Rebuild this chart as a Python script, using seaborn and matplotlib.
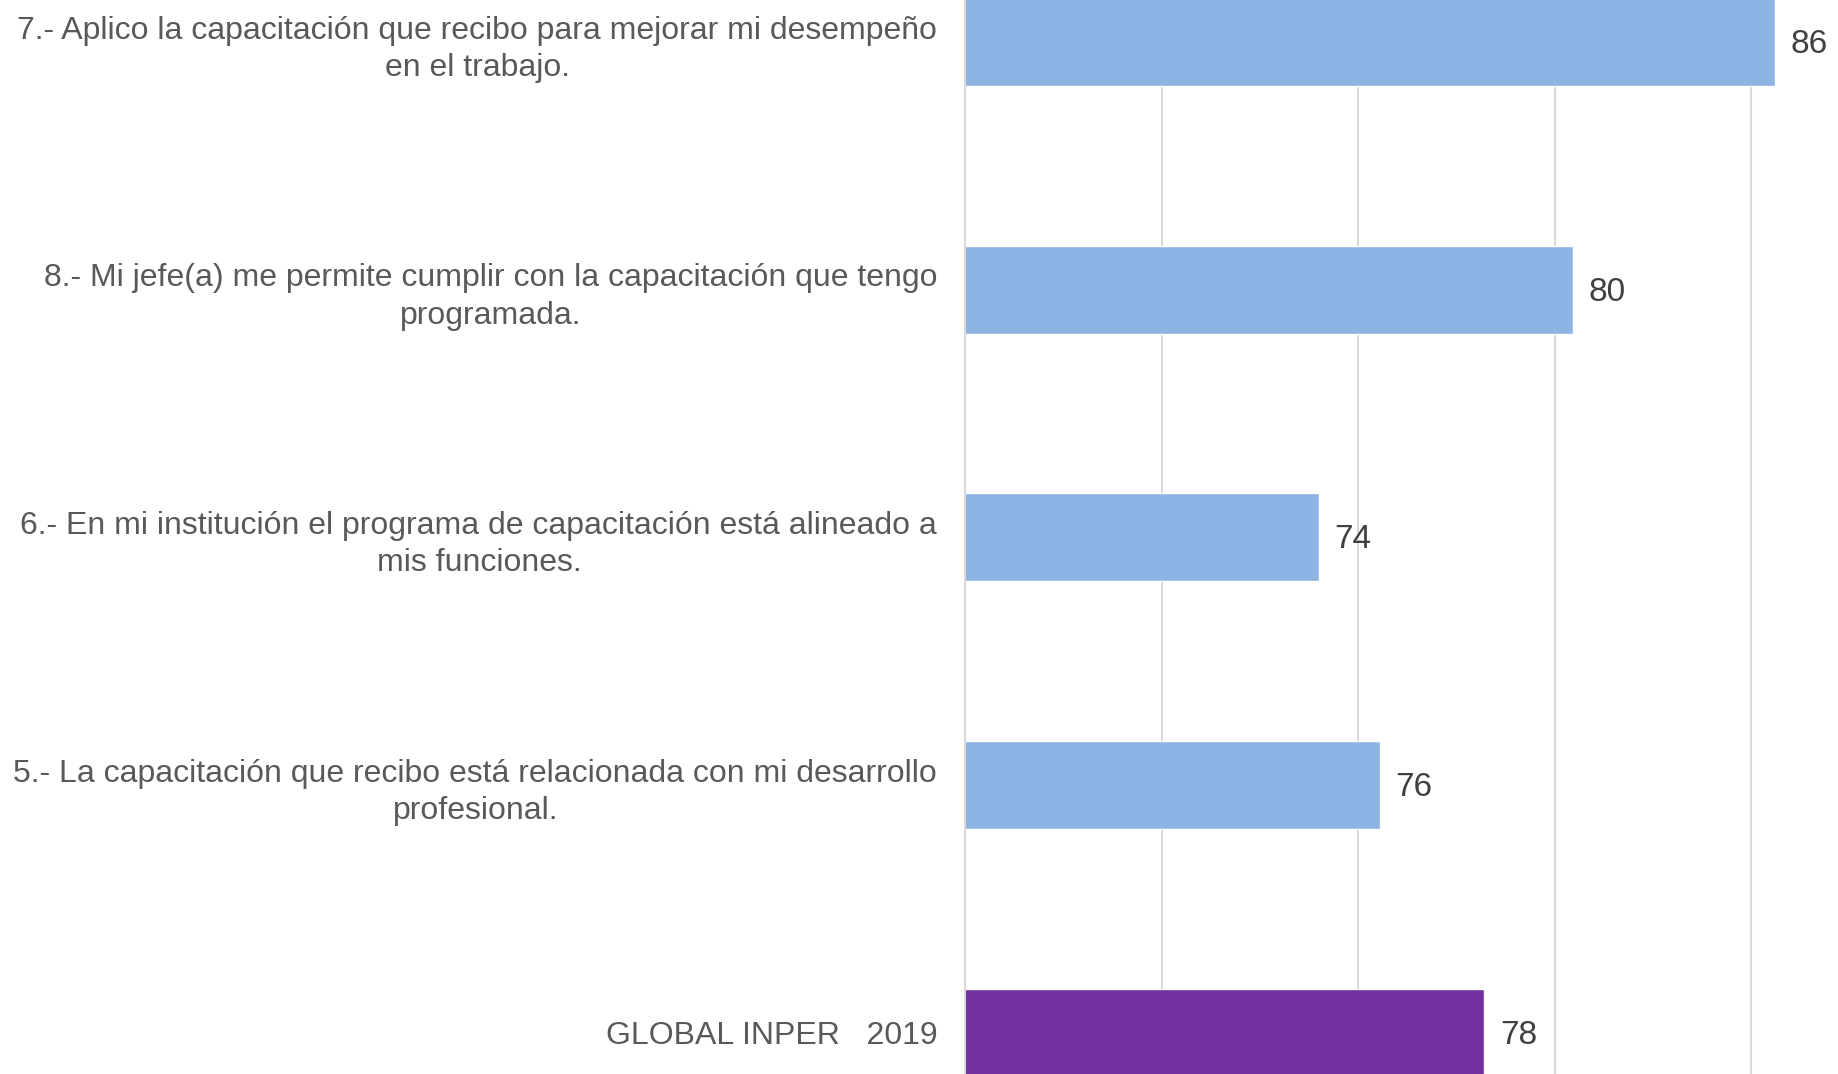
import numpy as np
import pandas as pd
import matplotlib
matplotlib.use("Agg")
import matplotlib.pyplot as plt
import seaborn as sns

categories = [
    "7.- Aplico la capacitación que recibo para mejorar mi desempeño\nen el trabajo.",
    "8.- Mi jefe(a) me permite cumplir con la capacitación que tengo\nprogramada.",
    "6.- En mi institución el programa de capacitación está alineado a\nmis funciones.",
    "5.- La capacitación que recibo está relacionada con mi desarrollo\nprofesional.",
    "GLOBAL INPER   2019",
]
values = [85.6, 80.45, 74.0, 75.55, 78.2]
bar_colors = ["#8EB4E3", "#8EB4E3", "#8EB4E3", "#8EB4E3", "#7030A0"]
grid_ticks = [65, 70, 75, 80, 85]

df = pd.DataFrame({"cat": categories, "val": values})

sns.set_style("white")
plt.rcParams["font.family"] = ["Liberation Sans", "DejaVu Sans"]

fig = plt.figure(figsize=(18.38, 10.74), dpi=100)
ax = fig.add_axes([965 / 1838, 0, 1 - 965 / 1838, 1])

sns.barplot(data=df, x="val", y="cat", hue="cat", palette=bar_colors,
            legend=False, width=0.355, orient="h", ax=ax, saturation=1)

ax.set_xlim(65, 87.2)
ax.set_ylim(4.167, -0.17)
ax.set_xticks(grid_ticks)
ax.set_xticklabels([])
ax.tick_params(axis="x", length=0)
ax.grid(axis="x", color="#D9D9D9", linewidth=1.5)
ax.set_axisbelow(True)
for s in ["top", "right", "bottom"]:
    ax.spines[s].set_visible(False)
ax.spines["left"].set_color("#D9D9D9")
ax.spines["left"].set_linewidth(1.5)

ax.set_xlabel("")
ax.set_ylabel("")
ax.tick_params(axis="y", length=0, pad=20, labelsize=23, labelcolor="#595959")
for lbl in ax.get_yticklabels():
    lbl.set_multialignment("center")
    lbl.set_linespacing(1.32)

for i, v in enumerate(values):
    ax.text(v + 0.4, i + 0.01, f"{v:.0f}", va="center", ha="left",
            fontsize=24, color="#404040")

fig.savefig("out.png", dpi=100)
